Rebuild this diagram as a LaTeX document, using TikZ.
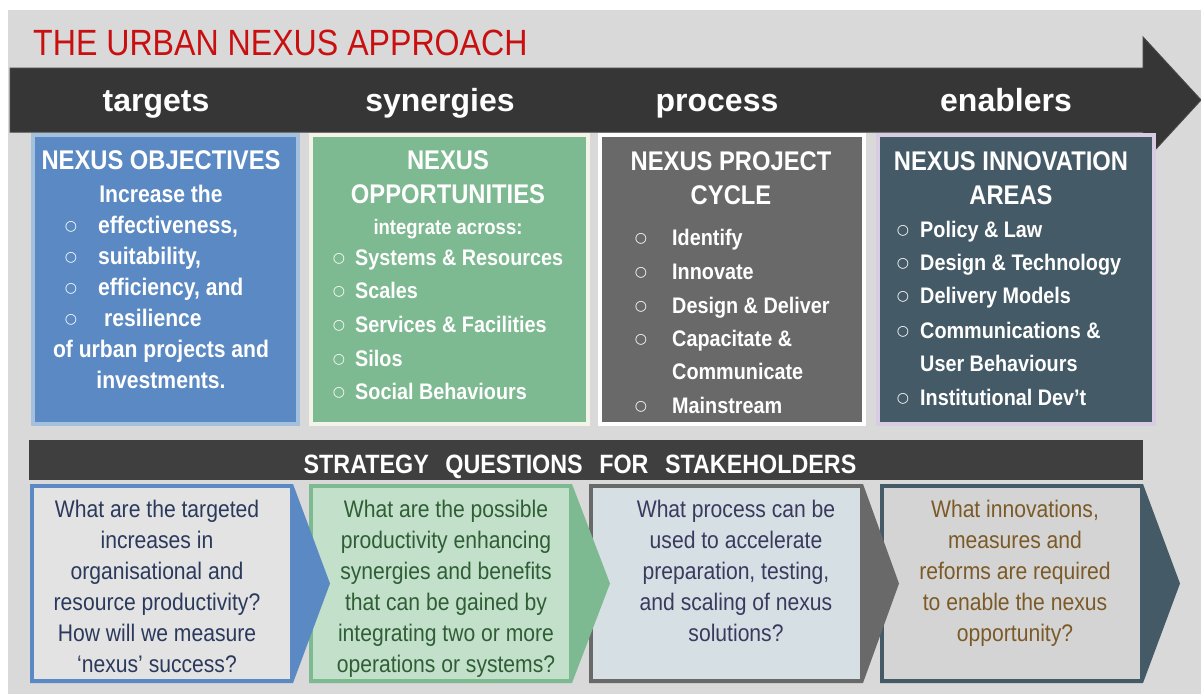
\documentclass[tikz,border=0pt]{standalone}
\usepackage{fontspec}
\setmainfont{Liberation Sans}[FakeStretch=0.88]
\newfontfamily\widefont{Liberation Sans}
\newfontfamily\bulfont{DejaVu Sans}
\definecolor{bgc}{HTML}{D9D9D9}
\definecolor{arrowc}{HTML}{363636}
\definecolor{arrowe}{HTML}{454545}
\definecolor{titlec}{HTML}{C81010}
\definecolor{barc}{HTML}{3F3F3F}
\definecolor{b1f}{HTML}{5A89C3}\definecolor{b1b}{HTML}{A3C1DD}
\definecolor{b2f}{HTML}{7DB991}\definecolor{b2b}{HTML}{F3F3E8}
\definecolor{b3f}{HTML}{696969}\definecolor{b3b}{HTML}{FFFFFF}
\definecolor{b4f}{HTML}{445A66}\definecolor{b4b}{HTML}{D8CCE2}
\definecolor{c1b}{HTML}{5A89C3}\definecolor{c1f}{HTML}{E3E3E3}\definecolor{c1t}{HTML}{2B3A5C}
\definecolor{c2b}{HTML}{7DB991}\definecolor{c2f}{HTML}{C3E0CB}\definecolor{c2t}{HTML}{2F5E35}
\definecolor{c3b}{HTML}{696969}\definecolor{c3f}{HTML}{D6DFE4}\definecolor{c3t}{HTML}{3A3A5E}
\definecolor{c4b}{HTML}{445A66}\definecolor{c4f}{HTML}{D4D4D4}\definecolor{c4t}{HTML}{7B5A28}
\tikzset{
  lbl/.style={text=white, font=\widefont\bfseries\fontsize{32}{32}\selectfont, anchor=base, inner sep=0},
  head/.style={text=white, font=\bfseries\fontsize{27}{27}\selectfont, anchor=base, inner sep=0},
  itemA/.style={text=white, font=\bfseries\fontsize{24}{24}\selectfont, anchor=base west, inner sep=0},
  ctrA/.style={text=white, font=\bfseries\fontsize{24}{24}\selectfont, anchor=base, inner sep=0},
  itemB/.style={text=white, font=\bfseries\fontsize{22.5}{22.5}\selectfont, anchor=base west, inner sep=0},
  bul/.style={text=white, font=\bulfont\fontsize{14}{14}\selectfont, anchor=center, inner sep=0},
  q/.style={font=\fontsize{24}{24}\selectfont, anchor=base, inner sep=0},
  panel/.style={line width=4pt},
}
\begin{document}
\begin{tikzpicture}[x=1pt,y=-1pt]
\useasboundingbox (0,0) rectangle (1201,694);
\fill[bgc] (8,10) rectangle (1201,694);
% title
\node[anchor=base west, inner sep=0, text=titlec, font=\fontsize{36.5}{36.5}\selectfont] (title) at (33,55) {THE URBAN NEXUS APPROACH};
% big arrow
\filldraw[fill=arrowc, draw=arrowe, line width=1pt] (10,68) -- (1143,68) -- (1143,37) -- (1201,100) -- (1143,163) -- (1143,132) -- (10,132) -- cycle;
\node[lbl] (l1) at (156,111) {targets};
\node[lbl] (l2) at (440,111) {synergies};
\node[lbl] (l3) at (717,111) {process};
\node[lbl] (l4) at (1006,111) {enablers};
% panels
\filldraw[panel, draw=b1b, fill=b1f] (33,135) rectangle (298,424);
\filldraw[panel, draw=b2b, fill=b2f] (311,135) rectangle (588,424);
\filldraw[panel, draw=b3b, fill=b3f] (600,135) rectangle (864,424);
\filldraw[panel, draw=b4b, fill=b4f] (878,135) rectangle (1154,424);
% panel 1
\node[head] (p1h) at (161,169) {NEXUS OBJECTIVES};
\node[ctrA] (p1a) at (161,202) {Increase the};
\node[bul] (p1b1) at (71,227) {○};
\node[itemA] (p1i1) at (98,233) {effectiveness,};
\node[bul] (p1b2) at (71,258) {○};
\node[itemA] (p1i2) at (98,264) {suitability,};
\node[bul] (p1b3) at (71,289) {○};
\node[itemA] (p1i3) at (98,295) {efficiency, and};
\node[bul] (p1b4) at (71,320) {○};
\node[itemA] (p1i4) at (104,326) {resilience};
\node[ctrA] (p1z) at (161,357) {of urban projects and};
\node[ctrA] (p1y) at (161,388) {investments.};
% panel 2
\node[head] (p2h) at (448,169) {NEXUS};
\node[head] (p2g) at (448,203) {OPPORTUNITIES};
\node[text=white, font=\bfseries\fontsize{21}{21}\selectfont, anchor=base, inner sep=0] (p2a) at (448,234) {integrate across:};
\node[bul] (p2b1) at (339,259) {○};
\node[itemB] (p2i1) at (355,265) {Systems \& Resources};
\node[bul] (p2b2) at (339,292) {○};
\node[itemB] (p2i2) at (355,298) {Scales};
\node[bul] (p2b3) at (339,326) {○};
\node[itemB] (p2i3) at (355,332) {Services \& Facilities};
\node[bul] (p2b4) at (339,360) {○};
\node[itemB] (p2i4) at (355,366) {Silos};
\node[bul] (p2b5) at (339,393) {○};
\node[itemB] (p2i5) at (355,399) {Social Behaviours};
% panel 3
\node[head] (p3h) at (731,170) {NEXUS PROJECT};
\node[head] (p3g) at (731,204) {CYCLE};
\node[bul] (p3b1) at (641,239) {○};
\node[itemB] (p3i1) at (672,245) {Identify};
\node[bul] (p3b2) at (641,273) {○};
\node[itemB] (p3i2) at (672,279) {Innovate};
\node[bul] (p3b3) at (641,307) {○};
\node[itemB] (p3i3) at (672,313) {Design \& Deliver};
\node[bul] (p3b4) at (641,340) {○};
\node[itemB] (p3i4) at (672,346) {Capacitate \&};
\node[itemB] (p3i5) at (672,379) {Communicate};
\node[bul] (p3b6) at (641,407) {○};
\node[itemB] (p3i6) at (672,413) {Mainstream};
% panel 4
\node[head] (p4h) at (1011,170) {NEXUS INNOVATION};
\node[head] (p4g) at (1011,204) {AREAS};
\node[bul] (p4b1) at (903,231) {○};
\node[itemB] (p4i1) at (920,237) {Policy \& Law};
\node[bul] (p4b2) at (903,264) {○};
\node[itemB] (p4i2) at (920,270) {Design \& Technology};
\node[bul] (p4b3) at (903,297) {○};
\node[itemB] (p4i3) at (920,303) {Delivery Models};
\node[bul] (p4b4) at (903,332) {○};
\node[itemB] (p4i4) at (920,338) {Communications \&};
\node[itemB] (p4i5) at (920,371) {User Behaviours};
\node[bul] (p4b6) at (903,399) {○};
\node[itemB] (p4i6) at (920,405) {Institutional Dev’t};
% strategy bar
\fill[barc] (29,440) rectangle (1143,480);
\node[text=white, font=\bfseries\fontsize{26.5}{26.5}\selectfont, anchor=base, inner sep=0] (sq) at (580,473) {STRATEGY\hspace{16.5pt}QUESTIONS\hspace{16.5pt}FOR\hspace{16.5pt}STAKEHOLDERS};
% chevrons (right to left so each tip overlaps the next)
\foreach \l/\r/\t/\bc/\fc in {880/1143/1180/c4b/c4f, 589/863/899/c3b/c3f, 309/572/610/c2b/c2f, 30/293/330/c1b/c1f}{
  \fill[\bc] (\l,484) -- (\r,484) -- (\t,583.5) -- (\r,683) -- (\l,683) -- cycle;
  \fill[\fc] (\l+4,488) rectangle (\r-3,679);
}
\foreach \s [count=\i] in {What are the targeted, increases in, organisational and, resource productivity?, How will we measure, ‘nexus’ success?}
  \node[q, text=c1t] (qa\i) at (157,486+31*\i) {\s};
\foreach \s [count=\i] in {What are the possible, productivity enhancing, synergies and benefits, that can be gained by, integrating two or more, operations or systems?}
  \node[q, text=c2t] (qb\i) at (446,486+31*\i) {\s};
\foreach \s [count=\i] in {What process can be, used to accelerate, {preparation, testing,}, and scaling of nexus, solutions?}
  \node[q, text=c3t] (qc\i) at (736,486+31*\i) {\s};
\foreach \s [count=\i] in {{What innovations,}, measures and, reforms are required, to enable the nexus, opportunity?}
  \node[q, text=c4t] (qd\i) at (1015,486+31*\i) {\s};
\end{tikzpicture}
\end{document}
